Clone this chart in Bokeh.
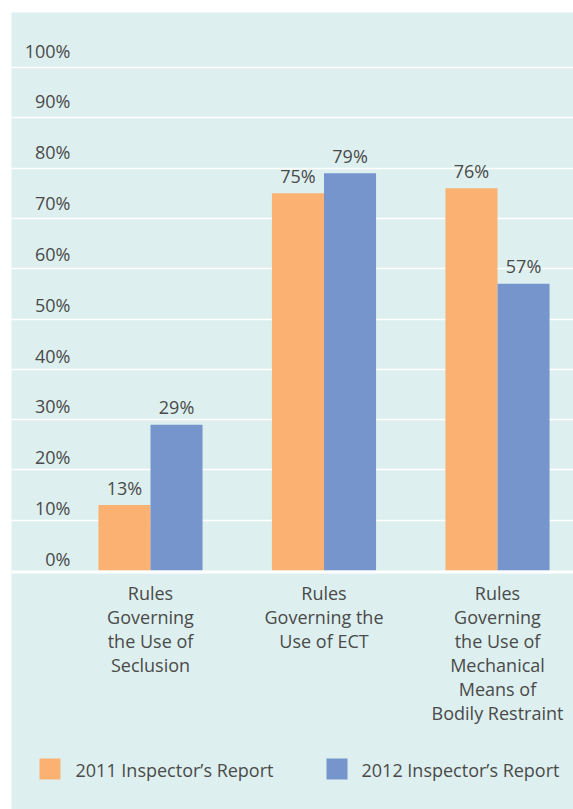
from bokeh.plotting import figure
from bokeh.models import Range1d, Grid, FixedTicker, Span, ColumnDataSource
from bokeh.core.properties import value
from bokeh.embed import file_html
from bokeh.resources import INLINE

# ---------------- data ----------------
category_lines = [
    ["Rules", "Governing", "the Use of", "Seclusion"],
    ["Rules", "Governing the", "Use of ECT"],
    ["Rules", "Governing", "the Use of", "Mechanical", "Means of", "Bodily Restraint"],
]
series_names = ["2011 Inspector\u2019s Report", "2012 Inspector\u2019s Report"]
values_2011 = [13, 75, 76]
values_2012 = [29, 79, 57]
y_ticks = [0, 10, 20, 30, 40, 50, 60, 70, 80, 90, 100]
y_tick_labels = ["0%", "10%", "20%", "30%", "40%", "50%", "60%", "70%", "80%", "90%", "100%"]

# ---------------- style ----------------
C2011 = "#FBB172"
C2012 = "#7695CC"
BG = "#DDF0EF"
TXT = "#4a4a4a"
FONT = value("Open Sans")
FS = "18px"

W, H = 573, 809
BL, BT = 11, 12                     # borders -> frame starts at page (11, 12)
FRAME_W, FRAME_H = W - BL, H - BT
PPU = 5.03                          # pixels per percent
ZERO_PX = 558                       # zero line, px from frame top
GROUP_PX = 173.5                    # pixels between group centres
FIRST_PX = 139                      # first group centre, px from frame left
TSHIFT = 8                          # baseline correction for rendered text (px up)

x_start = -FIRST_PX / GROUP_PX
x_end = (FRAME_W - FIRST_PX) / GROUP_PX
y_end = ZERO_PX / PPU
y_start = -(FRAME_H - ZERO_PX) / PPU


def X(px):  # px from frame left -> data x
    return x_start + px / GROUP_PX


def Y(px):  # px below the zero line -> data y
    return -px / PPU


def TY(px):  # text baseline, px below zero line
    return Y(px - TSHIFT)


p = figure(width=W, height=H, output_backend="svg", toolbar_location=None,
           x_axis_type=None, y_axis_type=None,
           x_range=Range1d(x_start, x_end), y_range=Range1d(y_start, y_end),
           min_border_left=BL, min_border_top=BT, min_border_right=0, min_border_bottom=0,
           background_fill_color=BG, border_fill_color="white", outline_line_color=None)

# grid lines
p.add_layout(Grid(dimension=1, ticker=FixedTicker(ticks=y_ticks[1:]),
                  grid_line_color="white", grid_line_width=1.5))

# bars
idx = list(range(len(category_lines)))
BW = 0.3
src = ColumnDataSource(dict(
    x1=[i - BW / 2 for i in idx], x2=[i + BW / 2 for i in idx],
    v1=values_2011, v2=values_2012,
    l1=[f"{v}%" for v in values_2011], l2=[f"{v}%" for v in values_2012],
    y1=[v + TY(-9.5) for v in values_2011], y2=[v + TY(-9.5) for v in values_2012],
))
p.vbar(x="x1", top="v1", bottom=0, width=BW, source=src, fill_color=C2011, line_color=None)
p.vbar(x="x2", top="v2", bottom=0, width=BW, source=src, fill_color=C2012, line_color=None)

# zero line
p.add_layout(Span(location=Y(1.5), dimension="width", line_color="white", line_width=3))

# value labels
common = dict(text_font=FONT, text_font_size=FS, text_color=TXT, text_baseline="alphabetic")
p.text(x="x1", y="y1", text="l1", source=src, text_align="center", **common)
p.text(x="x2", y="y2", text="l2", source=src, text_align="center", **common)

# y tick labels
p.text(x=[X(59)] * len(y_ticks),
       y=[v + TY(-(3.5 + 0.055 * v)) for v in y_ticks],
       text=y_tick_labels, text_align="right", **common)

# category labels
cx, cy, ct = [], [], []
for i, lines in enumerate(category_lines):
    for j, line in enumerate(lines):
        cx.append(i)
        cy.append(TY(30 + 24 * j))
        ct.append(line)
p.text(x=cx, y=cy, text=ct, text_align="center", **common)

# legend
leg_y_sq = Y(198.5)
leg_y_txt = TY(207)
p.scatter(x=[X(38.5), X(325.5)], y=[leg_y_sq, leg_y_sq], marker="square", size=21,
          fill_color=[C2011, C2012], line_color=None)
p.text(x=[X(64), X(350)], y=[leg_y_txt, leg_y_txt], text=series_names,
       text_align="left", **common)

open("out.html", "w").write(file_html(p, INLINE))
